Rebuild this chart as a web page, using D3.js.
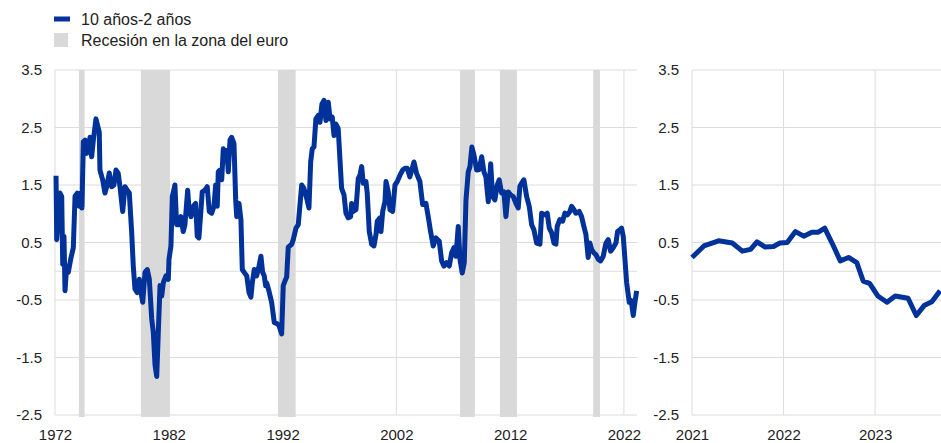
<!DOCTYPE html>
<html>
<head>
<meta charset="utf-8">
<script src="https://cdn.jsdelivr.net/npm/d3@7"></script>
<style>
  body { margin: 0; background: #fff; }
  svg { display: block; font-family: "Liberation Sans", Arial, sans-serif; }
</style>
</head>
<body>
<svg width="941" height="443"></svg>
<script>
// long history, 1972 onwards (decimal years)
const leftYears = [
  1972.09, 1972.15, 1972.44, 1972.59, 1972.68, 1972.79, 1972.88, 1973.03, 1973.17, 1973.38,
  1973.61, 1973.76, 1973.96, 1974.14, 1974.28, 1974.37, 1974.49, 1974.64, 1974.79, 1974.93,
  1975.08, 1975.22, 1975.37, 1975.60, 1975.75, 1975.89, 1975.95, 1976.19, 1976.39, 1976.54,
  1976.77, 1976.98, 1977.18, 1977.36, 1977.56, 1977.71, 1977.95, 1978.15, 1978.35, 1978.53,
  1978.74, 1978.88, 1979.03, 1979.23, 1979.41, 1979.56, 1979.71, 1979.91, 1980.11, 1980.29,
  1980.50, 1980.64, 1980.79, 1980.94, 1981.08, 1981.23, 1981.38, 1981.52, 1981.75, 1981.96,
  1982.02, 1982.19, 1982.31, 1982.54, 1982.69, 1982.90, 1983.07, 1983.27, 1983.42, 1983.66,
  1983.78, 1983.95, 1984.15, 1984.36, 1984.50, 1984.65, 1984.83, 1984.94, 1985.18, 1985.38,
  1985.56, 1985.77, 1985.97, 1986.12, 1986.26, 1986.35, 1986.50, 1986.65, 1986.79, 1986.94,
  1987.09, 1987.23, 1987.38, 1987.53, 1987.73, 1987.88, 1987.97, 1988.17, 1988.34, 1988.46,
  1988.63, 1988.85, 1989.05, 1989.22, 1989.34, 1989.51, 1989.72, 1989.93, 1990.10, 1990.25,
  1990.39, 1990.51, 1990.60, 1990.80, 1991.04, 1991.27, 1991.48, 1991.68, 1991.92, 1992.06,
  1992.21, 1992.36, 1992.50, 1992.80, 1992.94, 1993.18, 1993.38, 1993.68, 1993.88, 1994.12,
  1994.32, 1994.47, 1994.61, 1994.76, 1994.93, 1995.14, 1995.29, 1995.46, 1995.64, 1995.81,
  1996.02, 1996.17, 1996.37, 1996.52, 1996.69, 1996.89, 1997.04, 1997.19, 1997.40, 1997.57,
  1997.77, 1997.98, 1998.07, 1998.21, 1998.45, 1998.65, 1998.80, 1998.95, 1999.09, 1999.33,
  1999.44, 1999.62, 1999.83, 2000.03, 2000.21, 2000.32, 2000.56, 2000.65, 2000.80, 2001.00,
  2001.09, 2001.29, 2001.44, 2001.67, 2001.88, 2002.08, 2002.32, 2002.55, 2002.76, 2002.96,
  2003.19, 2003.55, 2003.78, 2004.07, 2004.31, 2004.60, 2004.80, 2005.01, 2005.24, 2005.48,
  2005.77, 2005.98, 2006.18, 2006.42, 2006.65, 2006.86, 2007.06, 2007.24, 2007.44, 2007.59,
  2007.79, 2007.97, 2008.12, 2008.32, 2008.47, 2008.64, 2008.82, 2009.06, 2009.28, 2009.50,
  2009.70, 2009.87, 2010.08, 2010.29, 2010.46, 2010.66, 2010.87, 2011.04, 2011.25, 2011.45,
  2011.63, 2011.83, 2012.04, 2012.27, 2012.51, 2012.71, 2012.86, 2013.10, 2013.21, 2013.45,
  2013.68, 2013.89, 2014.09, 2014.33, 2014.62, 2014.77, 2015.06, 2015.26, 2015.44, 2015.65,
  2015.85, 2016.02, 2016.14, 2016.37, 2016.61, 2016.81, 2017.02, 2017.25, 2017.40, 2017.61,
  2017.78, 2018.07, 2018.28, 2018.48, 2018.66, 2018.86, 2019.01, 2019.16, 2019.36, 2019.54,
  2019.74, 2019.95, 2020.18, 2020.42, 2020.62, 2020.83, 2021.06, 2021.30, 2021.44, 2021.65,
  2021.79, 2021.94, 2022.09, 2022.24, 2022.47, 2022.64, 2022.82, 2022.97, 2023.12
];
const leftValues = [
  1.66, 0.55, 1.36, 1.30, 0.12, 0.61, -0.34, 0.09, -0.02, 0.21,
  0.41, 1.30, 1.36, 1.13, 1.36, 1.10, 2.25, 2.28, 2.05, 2.16,
  2.33, 1.99, 2.28, 2.65, 2.53, 2.42, 1.76, 1.59, 1.36, 1.47,
  1.71, 1.47, 1.50, 1.76, 1.70, 1.47, 1.04, 1.47, 1.41, 1.36,
  0.67, 0.09, -0.31, -0.37, -0.14, -0.37, -0.54, -0.02, 0.03, -0.14,
  -0.83, -1.06, -1.63, -1.83, -1.06, -0.25, -0.43, -0.20, -0.08, -0.14,
  0.21, 0.44, 1.30, 1.50, 0.81, 0.81, 0.95, 0.69, 0.81, 1.41,
  1.07, 0.95, 1.13, 1.18, 0.61, 0.58, 1.07, 1.38, 1.41, 1.47,
  1.04, 1.01, 1.13, 1.50, 1.13, 1.73, 1.76, 1.59, 2.13, 1.93,
  2.10, 1.73, 2.28, 2.33, 2.22, 1.24, 0.95, 1.18, 0.90, 0.03,
  -0.02, -0.08, -0.37, -0.45, -0.20, 0.03, -0.08, 0.09, 0.26, -0.02,
  -0.08, -0.25, -0.20, -0.34, -0.54, -0.89, -0.91, -0.94, -1.09, -0.25,
  -0.17, -0.10, 0.42, 0.47, 0.55, 0.75, 0.81, 1.50, 1.44, 1.27,
  1.10, 1.90, 2.13, 2.16, 2.65, 2.71, 2.59, 2.91, 2.97, 2.62,
  2.94, 2.65, 2.68, 2.36, 2.56, 2.48, 1.96, 1.44, 1.33, 1.01,
  0.93, 0.95, 1.18, 1.04, 1.07, 1.61, 1.67, 1.82, 1.53, 1.56,
  1.36, 0.69, 0.47, 0.44, 0.64, 0.87, 0.93, 0.69, 1.04, 1.21,
  1.56, 1.38, 1.07, 1.04, 1.50, 1.56, 1.67, 1.76, 1.79, 1.79,
  1.64, 1.90, 1.70, 1.56, 1.16, 1.18, 0.95, 0.69, 0.44, 0.58,
  0.52, 0.18, 0.09, 0.15, 0.09, 0.32, 0.41, 0.26, 0.78, 0.21,
  -0.03, 0.15, 1.24, 1.73, 1.82, 2.16, 2.02, 1.76, 1.77, 1.99,
  1.73, 1.64, 1.21, 1.87, 1.30, 1.24, 1.50, 1.59, 1.36, 1.38,
  0.95, 1.38, 1.33, 1.30, 1.18, 1.10, 1.48, 1.56, 1.59, 1.30,
  1.13, 0.81, 0.72, 0.49, 0.47, 1.01, 0.98, 1.01, 0.75, 0.67,
  0.49, 0.47, 0.78, 0.90, 0.87, 1.01, 0.98, 1.04, 1.13, 1.07,
  1.01, 1.04, 0.95, 0.78, 0.64, 0.24, 0.49, 0.38, 0.32, 0.29,
  0.21, 0.18, 0.26, 0.49, 0.55, 0.35, 0.41, 0.49, 0.69, 0.72,
  0.75, 0.61, 0.21, -0.20, -0.54, -0.51, -0.77, -0.54, -0.34
];

// zoom on the last years
const rightYears = [
  2021.00, 2021.13, 2021.29, 2021.44, 2021.55, 2021.64, 2021.71, 2021.80, 2021.89, 2021.96,
  2022.04, 2022.13, 2022.22, 2022.31, 2022.38, 2022.45, 2022.53, 2022.62, 2022.71, 2022.80,
  2022.87, 2022.94, 2023.03, 2023.13, 2023.22, 2023.36, 2023.45, 2023.54, 2023.62, 2023.71
];
const rightValues = [
  0.24, 0.44, 0.53, 0.49, 0.35, 0.38, 0.51, 0.42, 0.43, 0.49,
  0.50, 0.69, 0.61, 0.68, 0.68, 0.75, 0.49, 0.18, 0.24, 0.15,
  -0.17, -0.21, -0.43, -0.54, -0.43, -0.47, -0.77, -0.59, -0.53, -0.34
];

// euro area recessions
const recessionStart = [1974.1, 1979.55, 1991.6, 2007.6, 2011.1, 2019.3];
const recessionEnd   = [1974.6, 1982.1, 1993.15, 2008.9, 2012.6, 2019.9];

const yTicks = [3.5, 2.5, 1.5, 0.5, -0.5, -1.5, -2.5];
const leftXTicks = [1972, 1982, 1992, 2002, 2012, 2022];
const rightXTicks = [2021, 2022, 2023];

const seriesName = "10 años-2 años";
const recessionName = "Recesión en la zona del euro";

const blue = "#003299";
const grey = "#d9d9d9";
const gridColor = "#dcdcdc";

const svg = d3.select("svg");

const y = d3.scaleLinear().domain([-2.5, 3.5]).range([415, 70]);

const panels = [
  { x: d3.scaleLinear().domain([1972, 2023.15]).range([55, 637]),
    xs: leftYears, vs: leftValues, ticks: leftXTicks, bands: true },
  { x: d3.scaleLinear().domain([2021, 2023.72]).range([692, 941]),
    xs: rightYears, vs: rightValues, ticks: rightXTicks, bands: false }
];

panels.forEach(p => {
  const g = svg.append("g");
  const [x0, x1] = p.x.range();

  // horizontal grid (ticks + zero line)
  g.selectAll(".hgrid")
    .data(yTicks.concat([0]))
    .enter()
    .append("line")
    .attr("x1", x0).attr("x2", x1)
    .attr("y1", d => y(d)).attr("y2", d => y(d))
    .attr("stroke", gridColor)
    .attr("stroke-width", 1);

  // vertical grid at year ticks
  g.selectAll(".vgrid")
    .data(p.ticks)
    .enter()
    .append("line")
    .attr("x1", d => p.x(d)).attr("x2", d => p.x(d))
    .attr("y1", y(3.5)).attr("y2", y(-2.5))
    .attr("stroke", gridColor)
    .attr("stroke-width", 1);

  if (p.bands) {
    g.selectAll(".band")
      .data(recessionStart.map((s, i) => [s, recessionEnd[i]]))
      .enter()
      .append("rect")
      .attr("x", d => p.x(d[0]))
      .attr("width", d => p.x(d[1]) - p.x(d[0]))
      .attr("y", y(3.5))
      .attr("height", y(-2.5) - y(3.5) + 2)
      .attr("fill", grey);
  }

  const yAxis = d3.axisLeft(y)
    .tickValues(yTicks)
    .tickFormat(d => d.toFixed(1))
    .tickSize(0)
    .tickPadding(13);

  g.append("g")
    .attr("transform", `translate(${x0},0)`)
    .call(yAxis)
    .call(a => a.select(".domain").remove())
    .selectAll("text")
    .attr("font-size", 15)
    .attr("font-family", "Liberation Sans, Arial, sans-serif")
    .attr("fill", "#222");

  const xAxis = d3.axisBottom(p.x)
    .tickValues(p.ticks)
    .tickFormat(d3.format("d"))
    .tickSize(0)
    .tickPadding(14);

  g.append("g")
    .attr("transform", `translate(0,${y(-2.5)})`)
    .call(xAxis)
    .call(a => a.select(".domain").remove())
    .selectAll("text")
    .attr("font-size", 15)
    .attr("font-family", "Liberation Sans, Arial, sans-serif")
    .attr("fill", "#222");

  const line = d3.line()
    .x((d, i) => p.x(p.xs[i]))
    .y(d => y(d));

  g.append("path")
    .datum(p.vs)
    .attr("d", line)
    .attr("fill", "none")
    .attr("stroke", blue)
    .attr("stroke-width", 5)
    .attr("stroke-linejoin", "round");
});

// legend
const legend = svg.append("g");
legend.append("rect")
  .attr("x", 54).attr("y", 16.5).attr("width", 16).attr("height", 5)
  .attr("fill", blue);
legend.append("text")
  .attr("x", 81).attr("y", 25)
  .attr("font-size", 16).attr("fill", "#222")
  .text(seriesName);
legend.append("rect")
  .attr("x", 54).attr("y", 33).attr("width", 14).attr("height", 14)
  .attr("fill", grey);
legend.append("text")
  .attr("x", 81).attr("y", 46)
  .attr("font-size", 16).attr("fill", "#222")
  .text(recessionName);
</script>
</body>
</html>
